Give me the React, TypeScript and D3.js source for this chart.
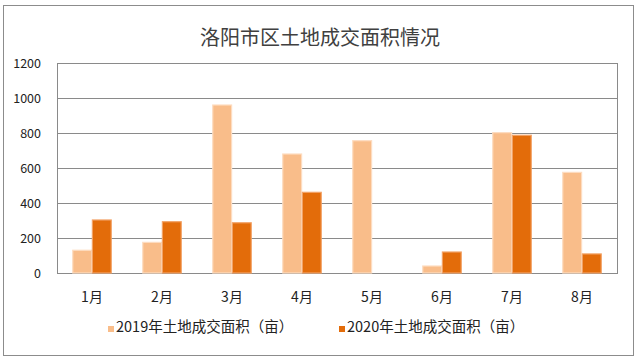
import React from "react";
import * as d3 from "d3";

const months = ["1月", "2月", "3月", "4月", "5月", "6月", "7月", "8月"];
const area2019 = [130, 175, 960, 680, 756, 40, 802, 575];
const area2020 = [303, 293, 287, 461, 0, 120, 787, 109];
const seriesNames = ["2019年土地成交面积（亩）", "2020年土地成交面积（亩）"];
const yTicks = [0, 200, 400, 600, 800, 1000, 1200];
const title = "洛阳市区土地成交面积情况";

const W = 640;
const H = 364;
const left = 57;
const right = 617;
const top = 63;
const bottom = 273;
const fills = ["#F9BD8A", "#E36C0A"];
const strokes = ["#FDDCC0", "#F2A266"];
const FONT = "'Noto Sans CJK SC', 'Liberation Sans', sans-serif";

export default function App() {
  const x0 = d3.scaleBand<string>().domain(months).range([left, right]).paddingInner(0.45).paddingOuter(0.225);
  const x1 = d3.scaleBand<string>().domain(["0", "1"]).range([0, x0.bandwidth()]).paddingInner(0.04);
  const y = d3.scaleLinear().domain([0, 1200]).range([bottom, top]);
  const series = [area2019, area2020];
  const legendX = [108, 339];

  return (
    <svg width={W} height={H} style={{ position: "absolute", left: 0, top: 0, background: "#fff" }} fontFamily={FONT}>
      <rect x={0} y={0} width={W} height={H} fill="#fff" />
      <rect x={3.5} y={5.5} width={630} height={350} fill="#fff" stroke="#8c8c8c" strokeWidth={1} />
      <text x={320} y={45} textAnchor="middle" fontSize={20} fill="#404040">{title}</text>
      {yTicks.map((t) => (
        <g key={t}>
          <line x1={left} x2={right} y1={Math.round(y(t)) + 0.5} y2={Math.round(y(t)) + 0.5} stroke="#8a8a8a" strokeWidth={1} />
          <text x={41} y={y(t) + 4.5} textAnchor="end" fontSize={12.5} fill="#222">{t}</text>
        </g>
      ))}
      <rect x={left + 0.5} y={top + 0.5} width={right - left} height={bottom - top} fill="none" stroke="#8a8a8a" />
      {months.map((m, i) => (
        <g key={m}>
          {series.map((s, j) => {
            const v = s[i];
            if (v <= 0) return null;
            const bx = (x0(m) as number) + (x1(String(j)) as number);
            return (
              <rect key={j} x={bx} y={y(v)} width={x1.bandwidth()} height={y(0) - y(v)} fill={fills[j]} stroke={strokes[j]} strokeWidth={1.2} />
            );
          })}
          <text x={(x0(m) as number) + x0.bandwidth() / 2} y={302} textAnchor="middle" fontSize={14} fill="#222">{m}</text>
        </g>
      ))}
      {seriesNames.map((n, j) => {
        const lx = legendX[j];
        return (
          <g key={n}>
            <rect x={lx} y={326} width={6} height={6} fill={fills[j]} />
            <text x={lx + 8} y={332} fontSize={14.5} fill="#222">{n}</text>
          </g>
        );
      })}
    </svg>
  );
}
